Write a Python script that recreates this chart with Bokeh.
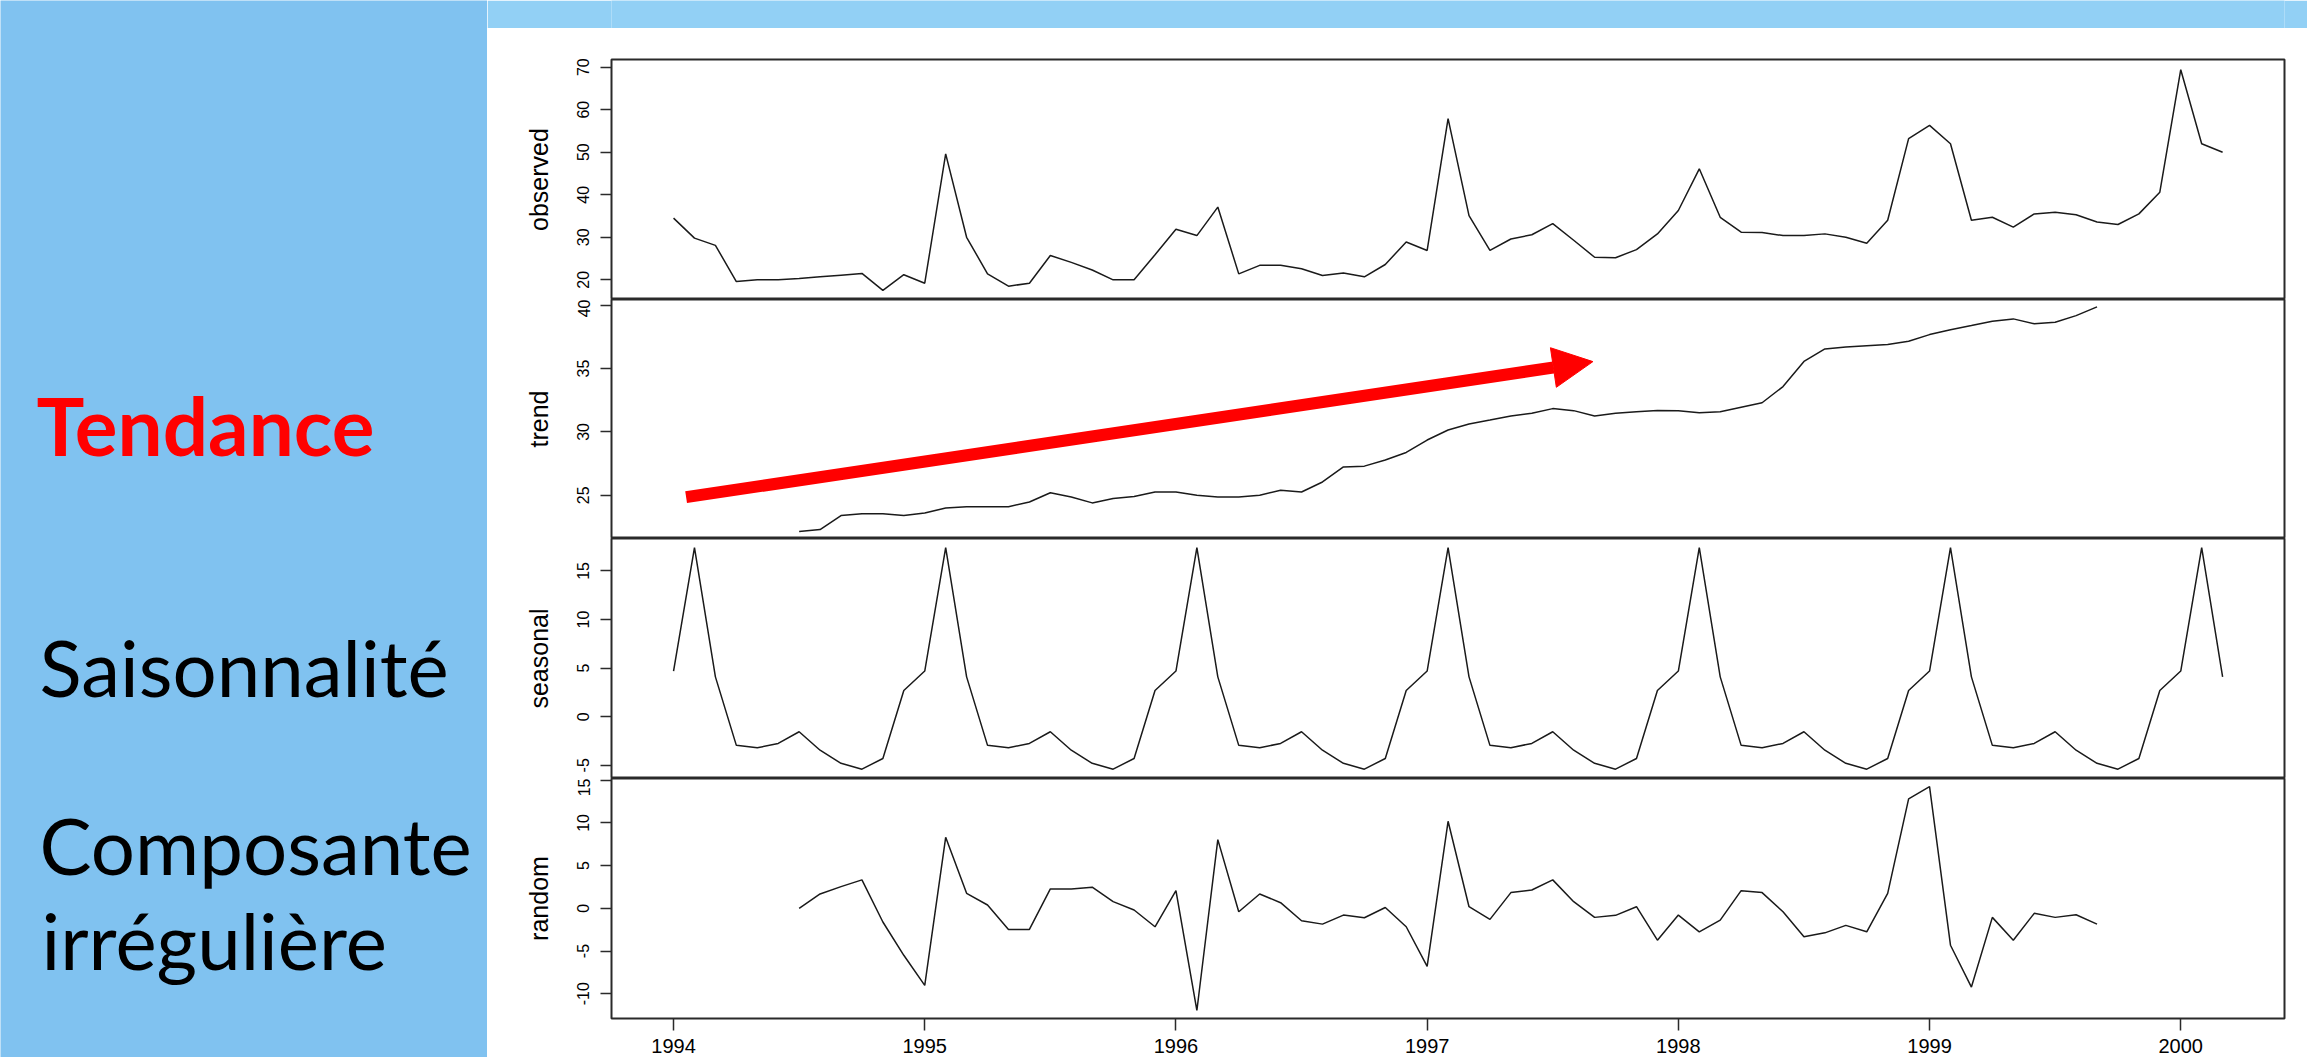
import numpy as np
from bokeh.plotting import figure
from bokeh.layouts import row, column
from bokeh.models import Range1d, FixedTicker, Arrow, NormalHead, Label
from bokeh.embed import file_html
from bokeh.resources import INLINE

# ---------------- data ----------------
start_year = 1994.0
months_per_year = 12

observed = [
    34.5, 29.8, 28.1, 19.6, 20.0, 20.0, 20.3, 20.7, 21.1, 21.5, 17.5, 21.2,   # 1994
    19.2, 49.6, 30.0, 21.4, 18.5, 19.2, 25.7, 24.1, 22.3, 20.0, 20.0, 25.9,   # 1995
    31.9, 30.4, 37.1, 21.4, 23.4, 23.4, 22.6, 21.0, 21.6, 20.7, 23.6, 28.9,   # 1996
    26.9, 57.9, 35.1, 26.9, 29.6, 30.6, 33.2, 29.3, 25.3, 25.2, 27.1, 30.8,   # 1997
    36.3, 46.1, 34.7, 31.2, 31.1, 30.4, 30.4, 30.8, 30.0, 28.6, 34.0, 53.2,   # 1998
    56.3, 52.0, 34.0, 34.7, 32.4, 35.5, 35.9, 35.3, 33.6, 33.0, 35.5, 40.6,   # 1999
    69.4, 52.0, 50.0,                                                         # 2000
]

# trend and random: July 1994 .. September 1999
trend_start = 1994.5
trend = [
    22.15, 22.3, 23.4, 23.55, 23.55, 23.4,
    23.6, 24.0, 24.1, 24.1, 24.1, 24.47, 25.2, 24.86, 24.4, 24.74, 24.9, 25.26,
    25.26, 25.0, 24.86, 24.86, 25.0, 25.4, 25.26, 26.05, 27.24, 27.3, 27.78, 28.38,
    29.36, 30.15, 30.63, 30.94, 31.26, 31.47, 31.84, 31.68, 31.26, 31.47, 31.6, 31.7,
    31.68, 31.52, 31.6, 31.95, 32.3, 33.58, 35.56, 36.55, 36.7, 36.8, 36.9, 37.15,
    37.68, 38.07, 38.39, 38.73, 38.92, 38.53, 38.65, 39.18, 39.87,
]
random_comp = [
    0.0, 1.68, 2.54, 3.33, -1.6, -5.5,
    -9.02, 8.31, 1.76, 0.39, -2.47, -2.47, 2.27, 2.27, 2.47, 0.78, -0.2, -2.16,
    2.07, -11.96, 8.04, -0.4, 1.68, 0.66, -1.46, -1.85, -0.79, -1.1, 0.1, -2.16,
    -6.79, 10.19, 0.19, -1.29, 1.84, 2.15, 3.33, 0.78, -1.06, -0.82, 0.19, -3.73,
    -0.79, -2.75, -1.38, 2.07, 1.84, -0.4, -3.34, -2.87, -2.0, -2.75, 1.76, 12.82,
    14.24, -4.32, -9.22, -1.06, -3.73, -0.59, -1.06, -0.75, -1.85,
]
seasonal = [
    4.7, 17.4, 4.1, -2.95, -3.2, -2.75, -1.55, -3.45, -4.8, -5.4, -4.3, 2.7,
    4.7, 17.4, 4.1, -2.95, -3.2, -2.75, -1.55, -3.45, -4.8, -5.4, -4.3, 2.7,
    4.7, 17.4, 4.1, -2.95, -3.2, -2.75, -1.55, -3.45, -4.8, -5.4, -4.3, 2.7,
    4.7, 17.4, 4.1, -2.95, -3.2, -2.75, -1.55, -3.45, -4.8, -5.4, -4.3, 2.7,
    4.7, 17.4, 4.1, -2.95, -3.2, -2.75, -1.55, -3.45, -4.8, -5.4, -4.3, 2.7,
    4.7, 17.4, 4.1, -2.95, -3.2, -2.75, -1.55, -3.45, -4.8, -5.4, -4.3, 2.7,
    4.7, 17.4, 4.1,
]

year_ticks = [1994, 1995, 1996, 1997, 1998, 1999, 2000]
panel_names = ["observed", "trend", "seasonal", "random"]
panel_ticks = [[20, 30, 40, 50, 60, 70], [25, 30, 35, 40],
               [-5, 0, 5, 10, 15], [-10, -5, 0, 5, 10, 15]]
panel_ranges = [(15.37, 71.8), (21.59, 40.45), (-6.36, 18.34), (-12.9, 15.2)]
x_limits = (1993.753, 2000.413)

arrow_start = (1994.05, 24.85)
arrow_end = (1997.66, 35.55)

side_labels = ["Tendance", "Saisonnalité", "Composante", "irrégulière"]

# --------------- derived time axes ----------------
t_obs = start_year + np.arange(len(observed)) / months_per_year
t_mid = trend_start + np.arange(len(trend)) / months_per_year
series = [(t_obs, observed), (t_mid, trend), (t_obs, seasonal), (t_mid, random_comp)]

# --------------- layout constants ----------------
LEFT_W = 487
RIGHT_W = 1820
STRIP_H = 28
heights = [271, 239, 240, 279]
BLUE_LEFT = "#80C2F0"
BLUE_TOP = "#92D0F5"
FONT = "Liberation Sans"

x_range = Range1d(*x_limits)

panels = []
for i, (name, ticks, yr, (tx, ty)) in enumerate(zip(panel_names, panel_ticks, panel_ranges, series)):
    p = figure(width=RIGHT_W, height=heights[i], x_range=x_range,
               y_range=Range1d(*yr), output_backend="svg", toolbar_location=None,
               min_border_left=124, min_border_right=23,
               min_border_top=31 if i == 0 else 0,
               min_border_bottom=39 if i == 3 else 0)
    p.background_fill_color = "white"
    p.border_fill_color = "white"
    p.outline_line_color = "#2a2a2a"
    p.outline_line_width = 2
    p.xgrid.visible = False
    p.ygrid.visible = False

    p.line(tx, ty, line_color="#1a1a1a", line_width=1.5)

    ya = p.yaxis[0]
    ya.ticker = FixedTicker(ticks=ticks)
    ya.major_label_overrides = {t: str(t) for t in ticks}
    ya.axis_label = name
    ya.axis_label_text_font = FONT
    ya.axis_label_text_font_size = "25px"
    ya.axis_label_text_font_style = "normal"
    ya.axis_label_text_color = "black"
    ya.axis_label_standoff = 22
    ya.major_label_orientation = "vertical"
    ya.major_label_text_font = FONT
    ya.major_label_text_font_size = "16px"
    ya.major_label_text_color = "black"
    ya.major_label_standoff = 11
    ya.major_tick_out = 11
    ya.major_tick_in = 0
    ya.major_tick_line_color = "#2a2a2a"
    ya.major_tick_line_width = 1.5
    ya.minor_tick_out = 0
    ya.minor_tick_in = 0
    ya.minor_tick_line_color = None
    ya.axis_line_color = None

    xa = p.xaxis[0]
    if i < 3:
        xa.visible = False
    else:
        xa.ticker = FixedTicker(ticks=year_ticks)
        xa.major_label_text_font = FONT
        xa.major_label_text_font_size = "20px"
        xa.major_label_text_color = "black"
        xa.major_label_standoff = 8
        xa.major_tick_out = 12
        xa.major_tick_in = 0
        xa.major_tick_line_color = "#2a2a2a"
        xa.major_tick_line_width = 1.5
        xa.minor_tick_out = 0
        xa.minor_tick_in = 0
        xa.minor_tick_line_color = None
        xa.axis_line_color = None

    if name == "trend":
        p.add_layout(Arrow(end=NormalHead(size=40, fill_color="#FF0000", line_color="#FF0000"),
                           x_start=arrow_start[0], y_start=arrow_start[1],
                           x_end=arrow_end[0], y_end=arrow_end[1],
                           line_color="#FF0000", line_width=12))
    panels.append(p)

# top blue strip
strip = figure(width=RIGHT_W, height=STRIP_H, output_backend="svg", toolbar_location=None,
               min_border=0, x_range=Range1d(0, 1), y_range=Range1d(0, 1))
strip.axis.visible = False
strip.grid.visible = False
strip.outline_line_color = None
strip.background_fill_color = BLUE_TOP
strip.border_fill_color = BLUE_TOP

# left panel with texts
total_h = STRIP_H + sum(heights)
left = figure(width=LEFT_W, height=total_h, output_backend="svg", toolbar_location=None,
              min_border=0, x_range=Range1d(0, LEFT_W), y_range=Range1d(0, total_h))
left.axis.visible = False
left.grid.visible = False
left.outline_line_color = None
left.background_fill_color = BLUE_LEFT
left.border_fill_color = BLUE_LEFT

label_specs = [
    (side_labels[0], 36, total_h - 424, "#FF0000", "bold", "80px"),
    (side_labels[1], 39, total_h - 666, "black", "normal", "78px"),
    (side_labels[2], 39, total_h - 844, "black", "normal", "78px"),
    (side_labels[3], 41, total_h - 939, "black", "normal", "78px"),
]
for txt, lx, ly, col, style, size in label_specs:
    left.add_layout(Label(x=lx, y=ly, text=txt, text_font="Lato", text_font_size=size,
                          text_color=col, text_font_style=style, text_baseline="alphabetic"))

layout = row(left, column(strip, *panels, spacing=0), spacing=0)

open("out.html", "w").write(file_html(layout, INLINE))
